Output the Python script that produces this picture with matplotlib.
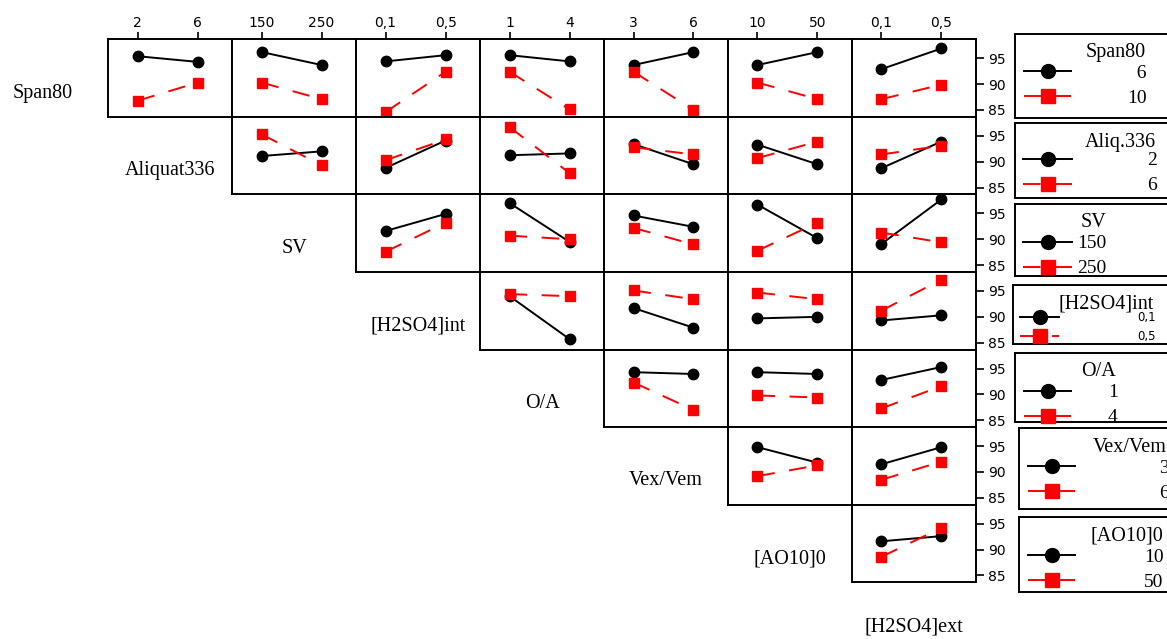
import matplotlib.pyplot as plt
from matplotlib.lines import Line2D

# factors of the design, in matrix order (rows use the first seven, columns the last seven)
factors = ["Span80", "Aliquat336", "SV", "[H2SO4]int", "O/A", "Vex/Vem", "[AO10]0", "[H2SO4]ext"]
levels = [["6", "10"], ["2", "6"], ["150", "250"], ["0,1", "0,5"],
          ["1", "4"], ["3", "6"], ["10", "50"], ["0,1", "0,5"]]
legend_titles = ["Span80", "Aliq.336", "SV", "[H2SO4]int", "O/A", "Vex/Vem", "[AO10]0"]

# mean extraction (%) at the low level of the row factor, one pair per column factor
low_means = [
    [[95.4, 94.3], [96.2, 93.7], [94.4, 95.6], [95.6, 94.4], [93.7, 96.2], [93.7, 96.2], [92.9, 96.9]],
    [[91.1, 92.0], [88.8, 94.1], [91.25, 91.6], [93.4, 89.5], [93.3, 89.5], [88.75, 93.9]],
    [[91.6, 94.9], [97.0, 89.5], [94.6, 92.4], [96.7, 90.2], [89.1, 97.7]],
    [[94.0, 85.7], [91.7, 87.9], [89.7, 90.0], [89.3, 90.3]],
    [[94.3, 93.95], [94.3, 93.95], [92.8, 95.3]],
    [[94.8, 91.8], [91.5, 94.8]],
    [[91.6, 92.6]],
]
# same, at the high level of the row factor
high_means = [
    [[86.8, 90.3], [90.3, 87.1], [84.6, 92.4], [92.4, 85.1], [92.4, 85.0], [90.3, 87.1], [87.1, 89.9]],
    [[95.3, 89.3], [90.3, 94.3], [96.7, 87.8], [92.8, 91.4], [90.7, 93.9], [91.4, 93.1]],
    [[87.6, 93.2], [90.7, 90.0], [92.2, 89.0], [87.8, 93.2], [91.3, 89.4]],
    [[94.4, 94.0], [95.1, 93.4], [94.7, 93.4], [91.2, 97.2]],
    [[92.3, 87.0], [89.8, 89.4], [87.3, 91.6]],
    [[89.2, 91.3], [88.5, 92.0]],
    [[88.6, 94.2]],
]
y_ticks = [85, 90, 95]

W, H = 1167, 639
fig = plt.figure(figsize=(W / 100, H / 100), dpi=100)

SERIF = ["Liberation Serif", "DejaVu Serif"]
LW = 1.4
red_dash = (0, (9, 7.5))

# grid geometry in pixels
x0, y0, cw, rh = 108.3, 39.3, 123.96, 77.57


def fig_rect(left, top, width, height):
    return [left / W, 1 - (top + height) / H, width / W, height / H]


for i in range(7):
    for k, j in enumerate(range(i + 1, 8)):
        ax = fig.add_axes(fig_rect(x0 + cw * (j - 1), y0 + rh * i, cw, rh))
        ax.plot(levels[j], low_means[i][k], color="black", lw=LW,
                marker="o", ms=7.5, clip_on=False)
        ax.plot(levels[j], high_means[i][k], color="red", lw=LW, ls=red_dash,
                marker="s", ms=7.5, mec="red", clip_on=False)
        ax.set_xlim(-0.49, 1.577)
        ax.set_ylim(83.67, 98.67)
        for s in ax.spines.values():
            s.set_linewidth(LW)
        if i == 0:
            ax.xaxis.tick_top()
            ax.tick_params(axis="x", direction="out", length=5, width=1.2,
                           labelsize=10, pad=2)
        else:
            ax.set_xticks([])
        if j == 7:
            ax.yaxis.tick_right()
            ax.set_yticks(y_ticks)
            ax.tick_params(axis="y", direction="out", length=5.5, width=1.2,
                           labelsize=10, pad=3)
        else:
            ax.set_yticks([])

# factor names along the diagonal
for i, name in enumerate(factors):
    cx = x0 + cw * (i - 0.5)
    cy = y0 + rh * (i + 0.5) + 15
    if i == 0:
        cx -= 4
    if i == 7:
        cy = 627
    fig.text(cx / W, 1 - cy / H, name, ha="center", va="center",
             family=SERIF, size=14.5)

# one legend box per row
leg_left = [1015, 1015, 1015, 1013, 1015, 1019, 1019]
leg_top = [34, 123, 204, 285, 353, 428, 517]
leg_bottom = [118, 198, 276, 344, 422, 509, 592]
handle_x = [1024, 1023, 1023, 1020, 1024, 1028, 1028]
handle_len = [47, 49, 49, 39, 47, 47, 47]
text_pad = [56, 75, 5, 78, 37, 84, 69]
title_x = [1116, 1120, 1093, 1106, 1099, 1130, 1127]
row_mid = [86, 173, 256, 327, 405, 480.5, 569.5]

for i in range(7):
    box = fig.add_axes(fig_rect(leg_left[i], leg_top[i], 1200 - leg_left[i],
                                leg_bottom[i] - leg_top[i]))
    box.set_xticks([])
    box.set_yticks([])
    for s in box.spines.values():
        s.set_linewidth(LW)
    fig.text(title_x[i] / W, 1 - (leg_top[i] + 19) / H, legend_titles[i],
             ha="center", va="center", family=SERIF, size=14.5)
    if i == 3:
        prop = {"family": "DejaVu Sans", "size": 8.5}
        spacing = 0.45
    else:
        prop = {"family": SERIF, "size": 14}
        spacing = 0.38
    fs_px = prop["size"] * 100 / 72
    # right-align the level labels with figure spaces
    n = max(len(s) for s in levels[i])
    labels = [s.rjust(n, "\u2007") for s in levels[i]]
    handles = [
        Line2D([], [], color="black", lw=LW, marker="o", ms=10),
        Line2D([], [], color="red", lw=LW, ls=red_dash, marker="s", ms=10, mec="red"),
    ]
    box.legend(handles, labels, prop=prop, frameon=False, loc="center left",
               bbox_to_anchor=(handle_x[i] / W, 1 - row_mid[i] / H),
               bbox_transform=fig.transFigure, borderpad=0, borderaxespad=0,
               handlelength=handle_len[i] / fs_px,
               handletextpad=text_pad[i] / fs_px, labelspacing=spacing)

fig.savefig("out.png", dpi=100)
